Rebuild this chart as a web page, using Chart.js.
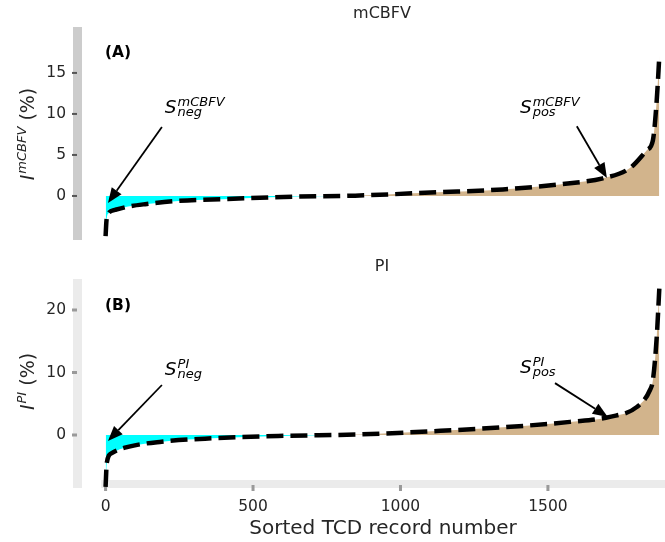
<!DOCTYPE html>
<html>
<head>
<meta charset="utf-8">
<script src="https://cdn.jsdelivr.net/npm/chart.js@4.4.1/dist/chart.umd.min.js"></script>
<style>
  html, body { margin: 0; padding: 0; background: #fff; }
  #wrap { position: relative; width: 665px; height: 542px; }
  canvas { position: absolute; left: 0; }
  #topChart { top: 0; }
  #bottomChart { top: 250px; }
</style>
</head>
<body>
<div id="wrap">
  <canvas id="topChart" width="665" height="250"></canvas>
  <canvas id="bottomChart" width="665" height="292"></canvas>
</div>
<script>
// sorted TCD records
const mcbfvIdx = [0, 3, 10, 32, 76, 134, 246, 415, 642, 846, 1124, 1347, 1575, 1686, 1778, 1836, 1856, 1869, 1878];
const mcbfvVals = [-4.9, -3.0, -2.1, -1.7, -1.3, -1.0, -0.6, -0.37, -0.08, 0.04, 0.45, 0.8, 1.55, 2.15, 3.4, 5.6, 6.8, 11.7, 17.2];

const piIdx = [0, 4, 21, 76, 190, 360, 585, 868, 1124, 1347, 1575, 1710, 1802, 1846, 1856, 1869, 1878];
const piVals = [-8.3, -4.5, -2.9, -1.9, -1.07, -0.53, -0.16, 0.1, 0.64, 1.23, 2.1, 2.9, 4.5, 7.2, 8.8, 15.7, 23.7];

const xTicks = [0, 500, 1000, 1500];
const mcbfvTicks = [0, 5, 10, 15];
const piTicks = [0, 10, 20];

const FONT = '"DejaVu Sans", sans-serif';
const TXT = '#262626';

function mathText(ctx, x, y, base, sup, sub) {
  ctx.font = 'italic 18.5px ' + FONT;
  ctx.fillText(base, x, y);
  const w = ctx.measureText(base).width;
  ctx.font = 'italic 13px ' + FONT;
  ctx.fillText(sup, x + w + 1, y - 7);
  ctx.fillText(sub, x + w + 1, y + 3);
}

function arrow(ctx, x1, y1, x2, y2) {
  const a = Math.atan2(y2 - y1, x2 - x1), hl = 15, hw = 6;
  const bx = x2 - hl * Math.cos(a), by = y2 - hl * Math.sin(a);
  ctx.strokeStyle = '#000';
  ctx.fillStyle = '#000';
  ctx.lineWidth = 1.8;
  ctx.beginPath(); ctx.moveTo(x1, y1); ctx.lineTo(bx, by); ctx.stroke();
  ctx.beginPath();
  ctx.moveTo(x2, y2);
  ctx.lineTo(bx + hw * Math.sin(a), by - hw * Math.cos(a));
  ctx.lineTo(bx - hw * Math.sin(a), by + hw * Math.cos(a));
  ctx.closePath(); ctx.fill();
}

function yTitle(ctx, x, cy, sup) {
  ctx.save();
  ctx.translate(x, cy);
  ctx.rotate(-Math.PI / 2);
  ctx.fillStyle = TXT;
  ctx.textAlign = 'left';
  ctx.textBaseline = 'alphabetic';
  const big = 'italic 19px ' + FONT, small = 'italic 13px ' + FONT, plain = '19px ' + FONT;
  ctx.font = big; const wI = ctx.measureText('I').width;
  ctx.font = small; const wS = ctx.measureText(sup).width;
  ctx.font = plain; const wP = ctx.measureText(' (%)').width;
  let sx = -(wI + 1 + wS + wP) / 2;
  ctx.font = big; ctx.fillText('I', sx, 0); sx += wI + 1;
  ctx.font = small; ctx.fillText(sup, sx, -8.5); sx += wS;
  ctx.font = plain; ctx.fillText(' (%)', sx, 0);
  ctx.restore();
}

function panelPlugin(p) {
  return {
    id: 'panel',
    beforeDatasetsDraw(chart) {
      const { ctx, chartArea: a, scales } = chart;
      ctx.save();
      ctx.fillStyle = p.spine;
      ctx.fillRect(a.left - 9, a.top, 9, a.bottom - a.top);
      if (p.xAxis) {
        const x0 = scales.x.getPixelForValue(-15);
        ctx.fillRect(x0, a.bottom - 8, a.right - x0, 8);
      }
      ctx.fillStyle = p.tickColor;
      p.yTicks.forEach(v => {
        const y = scales.y.getPixelForValue(v);
        ctx.fillRect(a.left - 10, y - p.tickH / 2, 5, p.tickH);
      });
      if (p.xAxis) {
        xTicks.forEach(v => {
          const x = scales.x.getPixelForValue(v);
          ctx.fillRect(x - 1.5, a.bottom - 3, 3, 6);
        });
      }
      ctx.restore();
    },
    afterDraw(chart) {
      const { ctx, scales } = chart;
      const X = v => scales.x.getPixelForValue(v), Y = v => scales.y.getPixelForValue(v);
      ctx.save();
      ctx.fillStyle = TXT;
      ctx.textAlign = 'center';
      ctx.textBaseline = 'alphabetic';
      ctx.font = '16px ' + FONT;
      ctx.fillText(p.title, 382, p.titleY);
      if (p.xAxis) {
        ctx.font = '20px ' + FONT;
        ctx.fillText('Sorted TCD record number', 383, p.xLabelY);
      }
      ctx.textAlign = 'left';
      ctx.fillStyle = '#000';
      ctx.font = 'bold 15.5px ' + FONT;
      ctx.fillText(p.panel, 105, p.panelY);
      p.notes.forEach(n => {
        ctx.fillStyle = '#000';
        mathText(ctx, X(n.text[0]), Y(n.text[1]), 'S', p.sup, n.sub);
        arrow(ctx, X(n.tail[0]), Y(n.tail[1]), X(n.tip[0]), Y(n.tip[1]));
      });
      ctx.restore();
      yTitle(ctx, 34, p.yTitleY, p.sup);
    }
  };
}

function makeChart(id, idx, vals, yMin, yMax, yTicks, pad, showX, plugin) {
  return new Chart(document.getElementById(id), {
    type: 'line',
    data: {
      datasets: [{
        data: idx.map((x, i) => ({ x: x, y: vals[i] })),
        borderColor: '#000',
        borderWidth: 4.5,
        borderDash: [17, 7],
        pointRadius: 0,
        cubicInterpolationMode: 'monotone',
        fill: { target: { value: 0 }, above: '#D2B48C', below: '#00FFFF' },
        clip: false
      }]
    },
    options: {
      responsive: false,
      animation: false,
      layout: { padding: pad },
      plugins: { legend: { display: false }, tooltip: { enabled: false } },
      scales: {
        x: {
          type: 'linear',
          min: -80,
          max: 1897,
          display: showX,
          afterBuildTicks: s => { s.ticks = xTicks.map(v => ({ value: v })); },
          afterFit: s => { s.height = showX ? 54 : 0; },
          grid: { display: false, drawTicks: false },
          border: { display: false },
          ticks: { padding: 10, color: TXT, font: { family: FONT, size: 15.5 }, callback: v => String(v) }
        },
        y: {
          min: yMin,
          max: yMax,
          afterBuildTicks: s => { s.ticks = yTicks.map(v => ({ value: v })); },
          afterFit: s => { s.width = 82; s.paddingTop = 0; s.paddingBottom = 0; },
          grid: { display: false, drawTicks: false },
          border: { display: false },
          ticks: { padding: 16, color: TXT, font: { family: FONT, size: 15.5 }, callback: v => String(v) }
        }
      }
    },
    plugins: [plugin]
  });
}

makeChart('topChart', mcbfvIdx, mcbfvVals, -5.37, 20.6, mcbfvTicks,
  { top: 27, bottom: 10, left: 0, right: 0 }, false,
  panelPlugin({
    spine: '#cccccc', tickColor: '#555555', tickH: 2, yTicks: mcbfvTicks, xAxis: false,
    title: 'mCBFV', titleY: 18, panel: '(A)', panelY: 57, sup: 'mCBFV', yTitleY: 134,
    notes: [
      { sub: 'neg', text: [201, 10.1], tail: [191, 8.4], tip: [8, -0.85] },
      { sub: 'pos', text: [1405, 10.1], tail: [1598, 8.5], tip: [1700, 2.2] }
    ]
  }));

makeChart('bottomChart', piIdx, piVals, -8.48, 24.96, piTicks,
  { top: 29, bottom: 0, left: 0, right: 0 }, true,
  panelPlugin({
    spine: '#ebebeb', tickColor: '#999999', tickH: 3, yTicks: piTicks, xAxis: true,
    title: 'PI', titleY: 21, panel: '(B)', panelY: 60, sup: 'PI', yTitleY: 131.5, xLabelY: 284,
    notes: [
      { sub: 'neg', text: [201, 9.6], tail: [191, 8.0], tip: [8, -0.96] },
      { sub: 'pos', text: [1405, 9.9], tail: [1524, 8.3], tip: [1703, 2.9] }
    ]
  }));
</script>
</body>
</html>
